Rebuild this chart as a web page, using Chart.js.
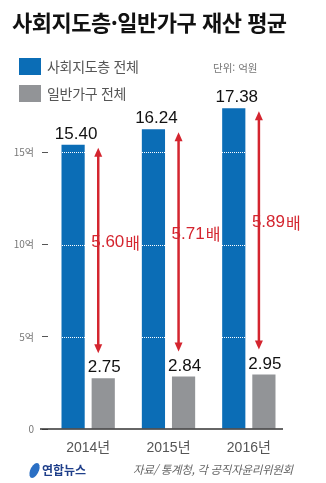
<!DOCTYPE html>
<html lang="ko">
<head>
<meta charset="utf-8">
<script src="https://cdn.jsdelivr.net/npm/chart.js@4.4.1/dist/chart.umd.min.js"></script>
<style>
    html, body { margin: 0; padding: 0; background: #fff; }
    #wrap { position: relative; width: 326px; height: 483px; overflow: hidden; font-family: "Noto Sans CJK KR", "Noto Sans", sans-serif; }
    #chart { position: absolute; left: 0; top: 0; }
    .title { position: absolute; left: 12px; top: 5px; font-size: 22px; font-weight: 700; color: #111; letter-spacing: -0.5px; white-space: nowrap; }
    .legend-item { position: absolute; left: 19px; height: 17px; line-height: 17px; font-size: 14px; color: #555; white-space: nowrap; letter-spacing: -0.3px; }
    .legend-item .sw { display: inline-block; width: 22px; height: 17px; vertical-align: top; margin-right: 6px; }
    .unit { position: absolute; left: 213px; top: 60px; font-size: 10.5px; color: #777; }
    .logo { position: absolute; left: 30px; top: 461px; font-size: 12px; font-weight: 700; color: #1f3f8a; white-space: nowrap; }
    .logo .mark { display: inline-block; width: 9px; height: 15px; border-radius: 50%; background: #2a6fc4; transform: skewX(-18deg); vertical-align: -3px; margin-right: 3px; }
    .source { position: absolute; left: 133px; top: 461px; font-size: 11.5px; font-style: italic; color: #666; white-space: nowrap; letter-spacing: -0.3px; }
</style>
</head>
<body>
<div id="wrap">
    <canvas id="chart" width="326" height="483"></canvas>
    <div class="title">사회지도층·일반가구 재산 평균</div>
    <div class="legend-item" style="top:58px"><span class="sw" style="background:#0b6db6"></span>사회지도층 전체</div>
    <div class="legend-item" style="top:85px"><span class="sw" style="background:#929497"></span>일반가구 전체</div>
    <div class="unit">단위: 억원</div>
    <div class="logo"><span class="mark"></span>연합뉴스</div>
    <div class="source">자료/ 통계청, 각 공직자윤리위원회</div>
</div>
<script>
// data
const years = ['2014년', '2015년', '2016년'];
const elite = [15.40, 16.24, 17.38];
const households = [2.75, 2.84, 2.95];
const ratios = [5.60, 5.71, 5.89];
const yTicks = [0, 5, 10, 15];

const BLUE = '#0b6db6';
const GRAY = '#929497';
const RED = '#d4252f';

// dotted guides, value labels, ratio arrows and baseline
const overlayPlugin = {
    id: 'overlay',
    afterDatasetsDraw(chart) {
        const ctx = chart.ctx;
        const blueBars = chart.getDatasetMeta(0).data;
        const grayBars = chart.getDatasetMeta(1).data;
        const yScale = chart.scales.y;
        const area = chart.chartArea;

        ctx.save();
        // white dotted guide lines (only show over the bars)
        ctx.strokeStyle = '#ffffff';
        ctx.lineWidth = 1;
        ctx.setLineDash([1, 1]);
        yTicks.filter(v => v > 0).forEach(v => {
            const y = Math.round(yScale.getPixelForValue(v)) + 0.5;
            ctx.beginPath();
            ctx.moveTo(area.left, y);
            ctx.lineTo(area.right, y);
            ctx.stroke();
        });
        ctx.setLineDash([]);

        // value labels
        ctx.fillStyle = '#111';
        ctx.font = '17px "Liberation Sans", Arial, sans-serif';
        ctx.textAlign = 'center';
        ctx.textBaseline = 'alphabetic';
        blueBars.forEach((bar, i) => {
            ctx.fillText(elite[i].toFixed(2), bar.x + 3, bar.y - 6);
        });
        grayBars.forEach((bar, i) => {
            ctx.fillText(households[i].toFixed(2), bar.x + 1, bar.y - 6);
        });

        // arrows
        ctx.strokeStyle = RED;
        ctx.fillStyle = RED;
        ctx.lineWidth = 2.5;
        grayBars.forEach((bar, i) => {
            const x = bar.x - 5;
            const top = blueBars[i].y + 3;
            const bottom = bar.y - 25;
            ctx.beginPath();
            ctx.moveTo(x, top + 6);
            ctx.lineTo(x, bottom - 6);
            ctx.stroke();
            ctx.beginPath();
            ctx.moveTo(x, top);
            ctx.lineTo(x - 4, top + 9);
            ctx.lineTo(x + 4, top + 9);
            ctx.closePath();
            ctx.fill();
            ctx.beginPath();
            ctx.moveTo(x, bottom);
            ctx.lineTo(x - 4, bottom - 9);
            ctx.lineTo(x + 4, bottom - 9);
            ctx.closePath();
            ctx.fill();

            // ratio label
            const mid = (top + bottom) / 2 - 8;
            ctx.font = '17px "Liberation Sans", Arial, sans-serif';
            ctx.textAlign = 'left';
            ctx.textBaseline = 'middle';
            const num = ratios[i].toFixed(2);
            ctx.fillText(num, x - 7, mid);
            const w = ctx.measureText(num).width;
            ctx.font = '16px "Noto Sans CJK KR", sans-serif';
            ctx.fillText('배', x - 7 + w + 1, mid);
        });

        // baseline
        const y0 = yScale.getPixelForValue(0);
        ctx.strokeStyle = '#333';
        ctx.lineWidth = 1.5;
        ctx.beginPath();
        ctx.moveTo(40, y0);
        ctx.lineTo(283, y0);
        ctx.stroke();
        ctx.restore();
    }
};

new Chart(document.getElementById('chart'), {
    type: 'bar',
    data: {
        labels: years,
        datasets: [
            { label: '사회지도층 전체', data: elite, backgroundColor: BLUE, categoryPercentage: 0.75, barPercentage: 0.77 },
            { label: '일반가구 전체', data: households, backgroundColor: GRAY, categoryPercentage: 0.75, barPercentage: 0.77 }
        ]
    },
    options: {
        responsive: false,
        animation: false,
        layout: { padding: { top: 60, right: 37, left: 0, bottom: 0 } },
        plugins: {
            legend: { display: false },
            tooltip: { enabled: false }
        },
        scales: {
            x: {
                grid: { display: false },
                border: { display: false },
                ticks: {
                    color: '#555',
                    padding: 3,
                    font: { family: '"Liberation Sans", "Noto Sans CJK KR", sans-serif', size: 14 }
                },
                afterFit: (s) => { s.height = 54; }
            },
            y: {
                min: 0,
                max: 20,
                afterBuildTicks: (s) => { s.ticks = yTicks.map(v => ({ value: v })); },
                afterFit: (s) => { s.width = 48; },
                border: { display: false },
                grid: {
                    drawOnChartArea: false,
                    tickColor: '#555',
                    tickLength: 6,
                    tickWidth: 1
                },
                ticks: {
                    color: '#777',
                    padding: 8,
                    font: { family: '"Noto Sans CJK KR", sans-serif', size: 10 },
                    callback: (v) => v === 0 ? '0' : v + '억'
                }
            }
        }
    },
    plugins: [overlayPlugin]
});
</script>
</body>
</html>
